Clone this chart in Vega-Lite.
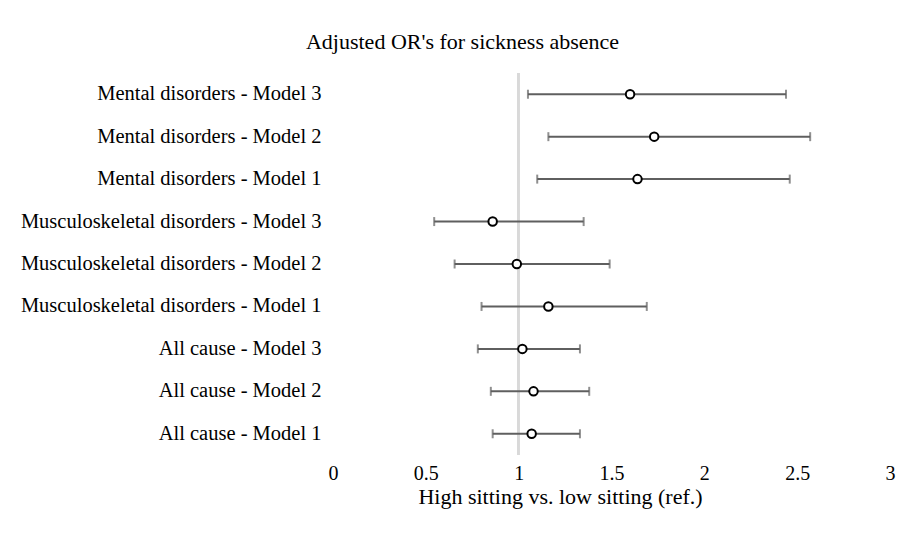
{
  "$schema": "https://vega.github.io/schema/vega-lite/v6.json",
  "width": 557,
  "height": 382,
  "autosize": "none",
  "padding": {"left": 333, "top": 73, "right": 13, "bottom": 81},
  "background": "white",
  "config": {
    "view": {"stroke": null},
    "font": "Liberation Serif"
  },
  "title": {
    "text": "Adjusted OR's for sickness absence",
    "font": "Liberation Serif",
    "fontSize": 22,
    "fontWeight": "normal",
    "color": "#000000",
    "anchor": "middle",
    "dx": -149,
    "offset": 18
  },
  "data": {
    "values": [
      {"label": "Mental disorders - Model 3", "or": 1.60, "lo": 1.05, "hi": 2.44},
      {"label": "Mental disorders - Model 2", "or": 1.73, "lo": 1.16, "hi": 2.57},
      {"label": "Mental disorders - Model 1", "or": 1.64, "lo": 1.10, "hi": 2.46},
      {"label": "Musculoskeletal disorders - Model 3", "or": 0.86, "lo": 0.545, "hi": 1.35},
      {"label": "Musculoskeletal disorders - Model 2", "or": 0.99, "lo": 0.655, "hi": 1.49},
      {"label": "Musculoskeletal disorders - Model 1", "or": 1.16, "lo": 0.80, "hi": 1.69},
      {"label": "All cause - Model 3", "or": 1.02, "lo": 0.78, "hi": 1.33},
      {"label": "All cause - Model 2", "or": 1.08, "lo": 0.85, "hi": 1.38},
      {"label": "All cause - Model 1", "or": 1.07, "lo": 0.86, "hi": 1.33}
    ]
  },
  "encoding": {
    "y": {
      "field": "label",
      "type": "nominal",
      "sort": null,
      "scale": {"paddingInner": 0, "paddingOuter": 0},
      "axis": {
        "title": null,
        "domain": false,
        "ticks": false,
        "labelFont": "Liberation Serif",
        "labelFontSize": 20.5,
        "labelColor": "#000000",
        "labelPadding": 12,
        "labelLimit": 400
      }
    }
  },
  "layer": [
    {
      "mark": {"type": "rule", "color": "#d9d9d9", "strokeWidth": 2},
      "encoding": {
        "x": {"datum": 1, "type": "quantitative"},
        "y": null
      }
    },
    {
      "mark": {"type": "rule", "color": "#5f5f5f", "strokeWidth": 2},
      "encoding": {
        "x": {
          "field": "lo",
          "type": "quantitative",
          "scale": {"domain": [0, 3], "nice": false, "zero": false},
          "axis": {
            "title": "High sitting vs. low sitting (ref.)",
            "titleFont": "Liberation Serif",
            "titleFontSize": 22,
            "titleFontWeight": "normal",
            "titleColor": "#000000",
            "titlePadding": 3,
            "titleX": 227,
            "titleAlign": "center",
            "values": [0, 0.5, 1, 1.5, 2, 2.5, 3],
            "format": "~g",
            "domain": false,
            "ticks": false,
            "grid": false,
            "labelFont": "Liberation Serif",
            "labelFontSize": 20,
            "labelColor": "#000000",
            "labelPadding": 8,
            "labelFlush": false
          }
        },
        "x2": {"field": "hi"}
      }
    },
    {
      "mark": {"type": "tick", "orient": "vertical", "color": "#5f5f5f", "thickness": 2, "size": 9},
      "encoding": {"x": {"field": "lo", "type": "quantitative"}}
    },
    {
      "mark": {"type": "tick", "orient": "vertical", "color": "#5f5f5f", "thickness": 2, "size": 9},
      "encoding": {"x": {"field": "hi", "type": "quantitative"}}
    },
    {
      "mark": {"type": "point", "shape": "circle", "filled": false, "fill": "white", "fillOpacity": 1, "stroke": "black", "strokeWidth": 2, "size": 72, "opacity": 1},
      "encoding": {"x": {"field": "or", "type": "quantitative"}}
    }
  ]
}
